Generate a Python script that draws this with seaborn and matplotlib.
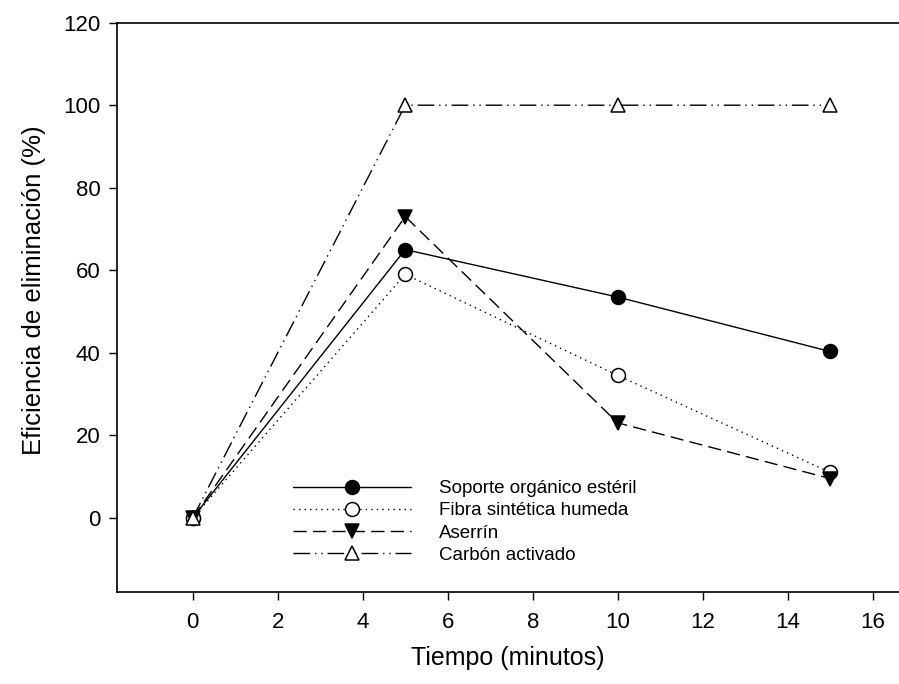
import matplotlib
matplotlib.use("Agg")
import matplotlib.pyplot as plt
import seaborn as sns
import pandas as pd

# data
tiempo = [0, 5, 10, 15]
soporte = [0, 65, 53.5, 40.3]
fibra = [0, 59, 34.5, 11]
aserrin = [0, 73, 23, 9.5]
carbon = [0, 100, 100, 100]

series_names = ["Soporte orgánico estéril", "Fibra sintética humeda",
                "Aserrín", "Carbón activado"]
series_values = [soporte, fibra, aserrin, carbon]

x_ticks = [0, 2, 4, 6, 8, 10, 12, 14, 16]
y_ticks = [0, 20, 40, 60, 80, 100, 120]

sns.set_style("ticks")
plt.rcParams['font.family'] = ['Liberation Sans', 'DejaVu Sans']
plt.rcParams['text.color'] = 'black'
plt.rcParams['axes.labelcolor'] = 'black'
plt.rcParams['xtick.color'] = 'black'
plt.rcParams['ytick.color'] = 'black'

# styles for each series: (marker, facecolor, dashes)
styles = [
    ("o", "black", (None, None)),
    ("o", "white", (1, 3)),
    ("v", "black", (9.5, 4.5)),
    ("^", "white", (12, 3.5, 1, 3.5, 1, 3.5)),
]

fig = plt.figure(figsize=(8.99, 6.84), dpi=100)
ax = fig.add_axes([116.7 / 899, 1 - 592 / 684, 1 - 116.7 / 899, (592 - 22.7) / 684])

for name, vals, (mk, fc, dash) in zip(series_names, series_values, styles):
    df = pd.DataFrame({"tiempo": tiempo, "valor": vals})
    sns.lineplot(data=df, x="tiempo", y="valor", ax=ax, color="black",
                 linewidth=1.0, marker=mk, markersize=10,
                 markerfacecolor=fc, markeredgecolor="black",
                 markeredgewidth=1.1, label=name)
    line = ax.lines[-1]
    if dash[0] is None:
        line.set_linestyle("-")
    else:
        line.set_dashes(dash)

ax.set_xlim(-1.79, 16.62)
ax.set_ylim(-18, 120)
ax.set_xticks(x_ticks)
ax.set_yticks(y_ticks)
ax.tick_params(direction="out", length=5.5, width=1.0, labelsize=16,
               color="black", labelcolor="black")
ax.tick_params(axis="x", pad=9)
ax.tick_params(axis="y", pad=6)
for s in ["left", "bottom", "top"]:
    ax.spines[s].set_linewidth(1.2)
    ax.spines[s].set_color("black")
ax.spines["right"].set_visible(False)

ax.set_xlabel("Tiempo (minutos)", fontsize=18, labelpad=9)
ax.set_ylabel("Eficiencia de eliminación (%)", fontsize=18.5)
ax.yaxis.set_label_coords(-0.091, 0.53)

ax.legend(loc="upper left", bbox_to_anchor=(293 / 899, 1 - 480 / 684),
          bbox_transform=fig.transFigure, frameon=False, fontsize=13.5,
          handlelength=6.3, handletextpad=1.5, labelspacing=0.27,
          borderpad=0, borderaxespad=0)

fig.savefig("out.png", dpi=100)
